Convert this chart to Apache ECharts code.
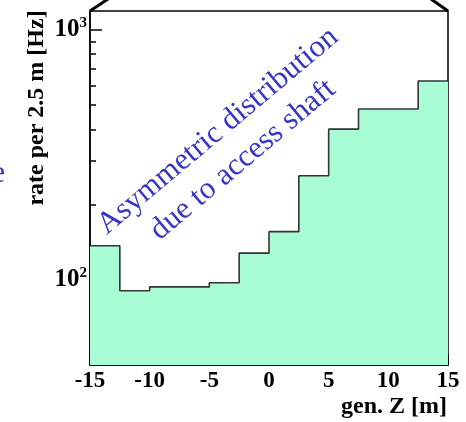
<!DOCTYPE html>
<html>
<head>
<meta charset="utf-8">
<script src="https://cdn.jsdelivr.net/npm/echarts@6/dist/echarts.min.js"></script>
<style>
  html, body { margin: 0; padding: 0; background: #fff; }
  #main { width: 466px; height: 422px; }
</style>
</head>
<body>
<div id="main"></div>
<script>
// histogram bins: left edge of each 2.5 m bin, and the rate in it
var binEdges = [-15, -12.5, -10, -7.5, -5, -2.5, 0, 2.5, 5, 7.5, 10, 12.5, 15];
var binRates = [137, 90.6, 93.8, 93.8, 97.5, 128, 156, 261, 401, 483, 483, 625];

var yMajorTicks = [100, 1000];
var yMinorTicks = [50, 60, 70, 80, 90, 200, 300, 400, 500, 600, 700, 800, 900];
var yTickLabels = {100: '10{sup|2}', 1000: '10{sup|3}'};

var serif = '"Liberation Serif", "DejaVu Serif", serif';

// step line: each bin's value runs from its left edge to the next edge
var histData = [];
for (var i = 0; i < binRates.length; i++) {
	histData.push([binEdges[i], binRates[i]]);
}
histData.push([binEdges[binEdges.length - 1], binRates[binRates.length - 1]]);

var myChart = echarts.init(document.getElementById('main'));

var yMin = 45.7, yMax = 1190;

option = {
	backgroundColor: '#fff',
	animation: false,
	grid: {
		left: 90,
		right: 18,
		top: 11,
		bottom: 57,
		show: true,
		borderColor: '#000',
		borderWidth: 1.5,
		backgroundColor: 'transparent'
	},
	xAxis: {
		type: 'value',
		min: -15,
		max: 15,
		interval: 5,
		axisLine: { show: true, onZero: false, lineStyle: { color: '#000', width: 1.5 } },
		axisTick: { show: true, inside: true, length: 11, lineStyle: { color: '#000', width: 1.5 } },
		minorTick: { show: true, splitNumber: 5, length: 5, lineStyle: { color: '#000', width: 1.2 } },
		splitLine: { show: false },
		axisLabel: {
			margin: 5,
			color: '#000',
			fontFamily: serif,
			fontWeight: 'bold',
			fontSize: 23
		}
	},
	yAxis: [{
		type: 'log',
		min: yMin,
		max: yMax,
		position: 'left',
		axisLine: { show: true, onZero: false, lineStyle: { color: '#000', width: 1.5 } },
		axisTick: { show: true, inside: true, length: 12, customValues: yMajorTicks, lineStyle: { color: '#000', width: 1.5 } },
		splitLine: { show: false },
		axisLabel: {
			customValues: yMajorTicks,
			margin: 3,
			color: '#000',
			fontFamily: serif,
			fontWeight: 'bold',
			fontSize: 25,
			formatter: function (v) { return yTickLabels[Math.round(v)] || ''; },
			rich: {
				sup: { fontSize: 15, fontWeight: 'bold', fontFamily: serif, color: '#000', padding: [0, 0, 13, 0] }
			}
		}
	}, {
		type: 'log',
		min: yMin,
		max: yMax,
		position: 'left',
		offset: 0,
		axisLine: { show: false, onZero: false },
		axisTick: { show: true, inside: true, length: 6, customValues: yMinorTicks, lineStyle: { color: '#000', width: 1.5 } },
		axisLabel: { show: false },
		splitLine: { show: false }
	}],
	series: [{
		type: 'line',
		step: 'end',
		yAxisIndex: 0,
		symbol: 'none',
		lineStyle: { color: '#333', width: 1.6 },
		areaStyle: { color: '#a8fdd5', opacity: 1, origin: 'start' },
		data: histData,
		z: 1
	}],
	graphic: [
		{ type: 'line', shape: { x1: 90, y1: 11, x2: 108, y2: -1 }, style: { stroke: '#000', lineWidth: 3 } },
		{ type: 'line', shape: { x1: 448, y1: 11, x2: 431, y2: -1 }, style: { stroke: '#000', lineWidth: 3 } },
		{
			type: 'text', x: 218, y: 131, rotation: 40 * Math.PI / 180,
			style: { text: 'Asymmetric distribution', fill: '#3535c8', font: '31px ' + serif, align: 'center', verticalAlign: 'middle' }
		},
		{
			type: 'text', x: 243, y: 160, rotation: 40 * Math.PI / 180,
			style: { text: 'due to access shaft', fill: '#3535c8', font: '31px ' + serif, align: 'center', verticalAlign: 'middle' }
		},
		{
			type: 'text', x: -9, y: 174,
			style: { text: 'e', fill: '#3535c8', font: '32px ' + serif, align: 'left', verticalAlign: 'middle' }
		},
		{
			type: 'text', x: 37, y: 108, rotation: Math.PI / 2,
			style: { text: 'rate per 2.5 m [Hz]', fill: '#000', font: 'bold 24px ' + serif, align: 'center', verticalAlign: 'middle' }
		},
		{
			type: 'text', x: 447, y: 407,
			style: { text: 'gen. Z [m]', fill: '#000', font: 'bold 24px ' + serif, align: 'right', verticalAlign: 'middle' }
		}
	]
};
myChart.setOption(option);
window.addEventListener('resize', function () {
	myChart.resize();
});
</script>
</body>
</html>
